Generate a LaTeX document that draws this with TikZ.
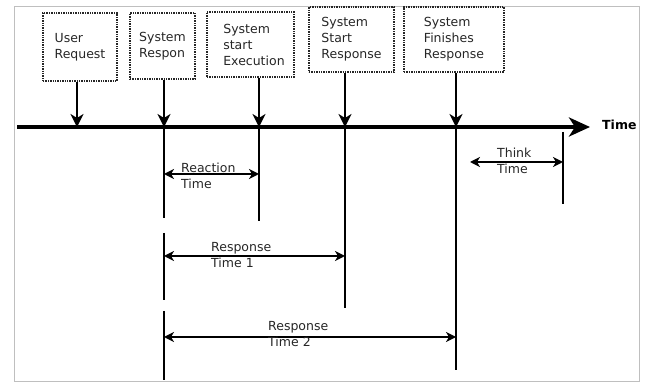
\documentclass[tikz,border=0pt]{standalone}
\usepackage{fontspec}
\setmainfont{DejaVu Sans}
\usetikzlibrary{arrows.meta}
\begin{document}
\begin{tikzpicture}[x=1pt,y=-1pt,
  txt/.style={font=\fontsize{12.5}{16}\selectfont, text=black!85},
  box/.style={txt, draw=black!85, densely dotted, line width=1.4pt, align=left, inner sep=0pt},
  lbl/.style={txt, align=left, inner sep=0pt, anchor=west},
  feed/.style={line width=1.9pt, -{Stealth[length=13pt,width=13pt,inset=4pt]}},
  tick/.style={line width=1.8pt},
  meas/.style={line width=1.6pt, {Stealth[length=10pt,width=10pt,inset=3pt]}-{Stealth[length=10pt,width=10pt,inset=3pt]}}]
\useasboundingbox (0,0) rectangle (649,382);
% frame
\draw[black!25, line width=0.9pt] (14,6) rectangle (639,381);

% event boxes
\node[box, minimum width=74pt, minimum height=68pt] (b1) at (80,47) {User\\Request};
\node[box, minimum width=65pt, minimum height=66pt] (b2) at (162.5,46) {System\\Respon};
\node[box, minimum width=87pt, minimum height=65pt] (b3) at (250.5,44.5) {\hspace*{7pt}System\\\hspace*{7pt}start\\\hspace*{7pt}Execution};
\node[box, minimum width=85pt, minimum height=65pt] (b4) at (351.5,39.5) {System\\Start\\Response};
\node[box, minimum width=100pt, minimum height=65pt] (b5) at (454,39.5) {System\\Finishes\\Response};

% timeline
\coordinate (tl0) at (17,127);
\coordinate (tl1) at (590,127);
\draw[line width=3.8pt, -{Stealth[length=21pt,width=19pt,inset=6pt]}] (tl0) -- (tl1);
\node[font=\fontsize{12.5}{15}\bfseries, anchor=west, inner sep=0pt] (time) at (602,125) {Time};

\coordinate (t1) at (77,127);
\coordinate (t2) at (164,127);
\coordinate (t3) at (259,127);
\coordinate (t4) at (345,127);
\coordinate (t5) at (456,127);

\draw[feed] (b1.south -| t1) -- (t1);
\draw[feed] (b2.south -| t2) -- (t2);
\draw[feed] (b3.south -| t3) -- (t3);
\draw[feed] (b4.south -| t4) -- (t4);
\draw[feed] (b5.south -| t5) -- (t5);

% vertical markers
\coordinate (v2a) at (164,218);
\coordinate (v2b) at (164,233);
\coordinate (v2c) at (164,300);
\coordinate (v2d) at (164,311);
\coordinate (v2e) at (164,380);
\coordinate (v3) at (259,221);
\coordinate (v4) at (345,308);
\coordinate (v5) at (456,370);
\coordinate (v6a) at (563,132);
\coordinate (v6b) at (563,204);
\draw[tick] (t2) -- (v2a);
\draw[tick] (v2b) -- (v2c);
\draw[tick] (v2d) -- (v2e);
\draw[tick] (t3) -- (v3);
\draw[tick] (t4) -- (v4);
\draw[tick] (t5) -- (v5);
\draw[tick] (v6a) -- (v6b);

% measurement arrows
\coordinate (r0) at (164,174);
\coordinate (r1) at (259,174);
\draw[meas] (r0) -- (r1);
\node[lbl] (lr) at (181,176) {Reaction\\Time};

\coordinate (p0) at (164,256);
\coordinate (p1) at (345,256);
\draw[meas] (p0) -- (p1);
\node[lbl] (lp) at (211,255) {Response\\Time 1};

\coordinate (q0) at (164,337);
\coordinate (q1) at (456,337);
\draw[meas] (q0) -- (q1);
\node[lbl] (lq) at (268,334.5) {Response\\Time 2};

\coordinate (k0) at (470,162);
\coordinate (k1) at (563,162);
\draw[meas] (k0) -- (k1);
\node[lbl] (lk) at (497,160.5) {Think\\Time};
\end{tikzpicture}
\end{document}
